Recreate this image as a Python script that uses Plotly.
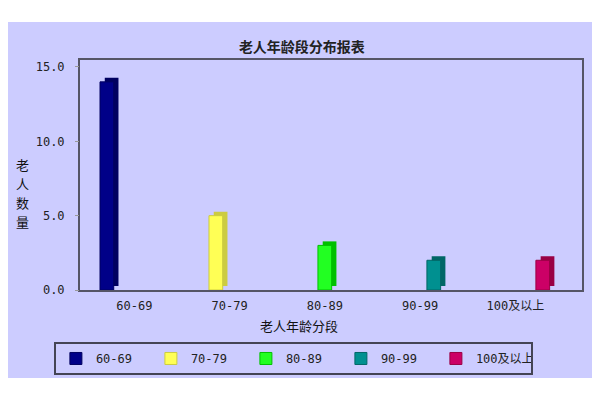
import plotly.graph_objects as go

# age groups and head counts
age_groups = ["60-69", "70-79", "80-89", "90-99", "100及以上"]
counts = [14, 5, 3, 2, 2]
bar_colors = ["#000088", "#FFFF55", "#22FF22", "#009090", "#CC0066"]
side_colors = ["#000060", "#CCCC40", "#00C000", "#006666", "#990044"]

y_ticks = [0, 5, 10, 15]
y_tick_text = ["0.0", "5.0", "10.0", "15.0"]
y_title_chars = ["老", "人", "数", "量"]

x_range = [-0.57, 4.70]
y_range = [0, 15.47]
# the darker copy sits a few pixels right and up, which gives the bars a 3d side
dx, dy = 0.05, 0.27

fig = go.Figure()

for i, grp in enumerate(age_groups):
    vals = [counts[i] if j == i else None for j in range(len(age_groups))]
    # shaded side (drawn underneath)
    fig.add_trace(go.Bar(
        x=age_groups, y=vals, name=grp, showlegend=False, hoverinfo="skip",
        marker=dict(color=side_colors[i], line=dict(width=0)),
        xaxis="x", yaxis="y",
    ))
for i, grp in enumerate(age_groups):
    vals = [counts[i] if j == i else None for j in range(len(age_groups))]
    fig.add_trace(go.Bar(
        x=age_groups, y=vals, name=grp,
        marker=dict(color=bar_colors[i], line=dict(color=side_colors[i], width=1)),
        xaxis="x2", yaxis="y2",
    ))

# vertical y title, one character per line
for k, ch in enumerate(y_title_chars):
    fig.add_annotation(
        text=ch, xref="paper", yref="paper",
        x=-0.115, y=0.545 - k * 0.082, xanchor="center", yanchor="middle",
        showarrow=False,
        font=dict(family="Noto Sans CJK SC", size=13, color="#111111"),
    )
fig.add_annotation(
    text="老人年龄分段", xref="paper", yref="paper",
    x=0.436, y=-0.155, xanchor="center", yanchor="middle", showarrow=False,
    font=dict(family="Noto Sans CJK SC", size=13, color="#111111"),
)

# lavender panel behind everything
fig.add_shape(
    type="rect", xref="paper", yref="paper",
    x0=-0.1594, x1=1.0299, y0=-0.3826, y1=1.165,
    fillcolor="#CCCCFF", line=dict(width=0), layer="below",
)

fig.update_layout(
    # page body adds 8px, so the figure is shrunk and pulled up/left by that much
    width=592,
    height=392,
    margin=dict(l=72, r=18, t=52, b=110),
    paper_bgcolor="white",
    plot_bgcolor="white",
    font=dict(family="DejaVu Sans Mono, Noto Sans CJK SC", size=12, color="#222222"),
    title=dict(
        text="<b>老人年龄段分布报表</b>", x=0.442, xref="paper", xanchor="center",
        y=1 - 39 / 392, yanchor="middle",
        font=dict(family="Noto Sans CJK SC", size=14, color="#222222"),
    ),
    barmode="group",
    bargap=0.28,
    bargroupgap=0,
    xaxis=dict(
        range=[x_range[0] - dx, x_range[1] - dx],
        showticklabels=False, ticks="",
        showline=True, linecolor="#555566", linewidth=2, mirror=True,
    ),
    yaxis=dict(
        range=[y_range[0] - dy, y_range[1] - dy],
        showticklabels=False, ticks="", showgrid=False, zeroline=False,
        showline=True, linecolor="#555566", linewidth=2, mirror=True,
    ),
    xaxis2=dict(
        range=x_range, overlaying="x", side="bottom",
        showline=False, showgrid=False, ticks="", ticklabelstandoff=7,
        tickfont=dict(family="DejaVu Sans Mono, Noto Sans CJK SC", size=12),
    ),
    yaxis2=dict(
        range=y_range, overlaying="y", side="left",
        tickvals=y_ticks, ticktext=y_tick_text,
        showgrid=False, zeroline=False, showline=False,
        ticks="outside", ticklen=4, tickcolor="#999999", ticklabelstandoff=8,
        tickfont=dict(family="DejaVu Sans Mono", size=12),
    ),
    legend=dict(
        orientation="h",
        x=-0.052, y=-0.226, xanchor="left", yanchor="top",
        bgcolor="#CCCCFF", bordercolor="#444455", borderwidth=2,
        entrywidth=50, entrywidthmode="pixels",
        font=dict(family="DejaVu Sans Mono, Noto Sans CJK SC", size=12),
        itemclick=False,
    ),
)

fig.write_html("out.html")
